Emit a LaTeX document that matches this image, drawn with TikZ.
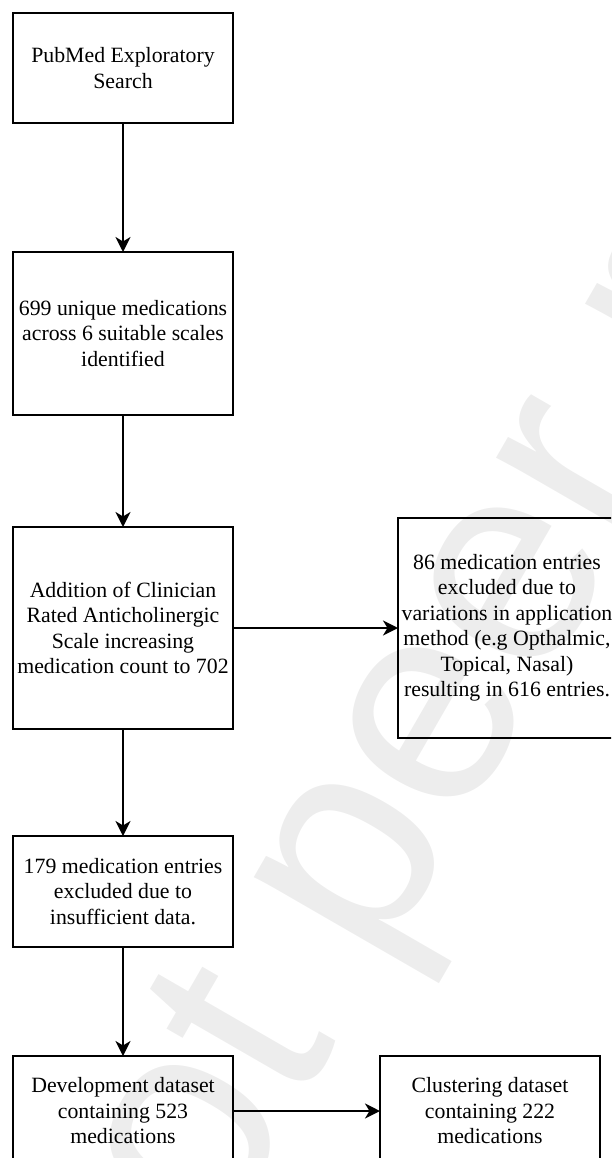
\documentclass[tikz,border=0pt]{standalone}
\usepackage{fontspec}
\setmainfont{Liberation Serif}
\newfontfamily\wmfont{Liberation Sans}
\usetikzlibrary{arrows.meta}
\definecolor{wmgray}{RGB}{237,237,237}
\begin{document}
\begin{tikzpicture}[x=1pt,y=-1pt,
  box/.style={draw=black, line width=2pt, rectangle, inner sep=0pt, outer sep=0pt,
    align=center, font=\fontsize{21.8}{25.5}\selectfont},
  flow/.style={draw=black, line width=2pt, -{Stealth[length=15pt,width=15pt,inset=4.5pt]}},
  watermark/.style={rotate=60, anchor=base west, inner sep=0pt, text=wmgray,
    font=\wmfont\fontsize{290}{300}\selectfont}
]
\useasboundingbox (0,0) rectangle (611,1158);
\begin{scope}
\clip (0,0) rectangle (611,1158);
\node[watermark] (wmk) at (-412,2338) {Preprint not peer reviewed};

\node[box, minimum width=220pt, minimum height=110pt] (a) at (123,68)
  {PubMed Exploratory\\Search};
\node[box, minimum width=220pt, minimum height=163pt] (b) at (123,333.5)
  {699 unique medications\\across 6 suitable scales\\identified};
\node[box, minimum width=220pt, minimum height=202pt] (c) at (123,628)
  {Addition of Clinician\\Rated Anticholinergic\\Scale increasing\\medication count to 702};
\node[box, minimum width=218pt, minimum height=220pt] (d) at (507,628)
  {86 medication entries\\excluded due to\\variations in application\\method (e.g Opthalmic,\\Topical, Nasal)\\resulting in 616 entries.};
\node[box, minimum width=220pt, minimum height=111pt] (e) at (123,891.5)
  {179 medication entries\\excluded due to\\insufficient data.};
\node[box, minimum width=220pt, minimum height=110pt] (f) at (123,1111)
  {Development dataset\\containing 523\\medications};
\node[box, minimum width=220pt, minimum height=110pt] (g) at (490,1111)
  {Clustering dataset\\containing 222\\medications};

\draw[flow] (a) -- (b);
\draw[flow] (b) -- (c);
\draw[flow] (c) -- (d);
\draw[flow] (c) -- (e);
\draw[flow] (e) -- (f);
\draw[flow] (f) -- (g);
\end{scope}
\end{tikzpicture}
\end{document}
